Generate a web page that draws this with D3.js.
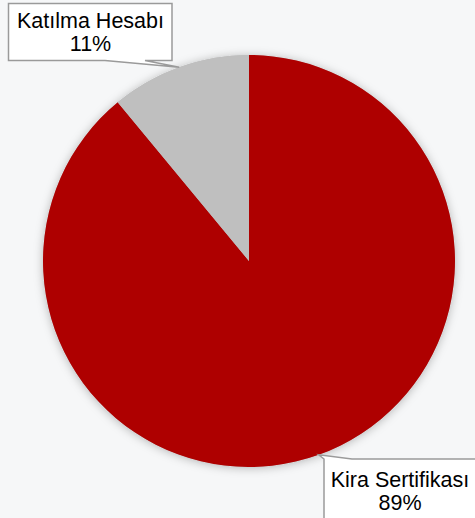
<!DOCTYPE html>
<html><head><meta charset="utf-8">
<script src="https://cdn.jsdelivr.net/npm/d3@7"></script>
<style>html,body{margin:0;padding:0;background:#f6f7f8;overflow:hidden}</style>
</head><body>
<svg id="c" width="475" height="518"></svg>
<script>
const categories = ["Kira Sertifikası", "Katılma Hesabı"];
const values = [89, 11];
const percentLabels = ["89%", "11%"];
const colors = ["#AE0000", "#BFBFBF"];

const svg = d3.select("#c");
const W = 475, H = 518;
const cx = 249, cy = 261, R = 206;

const defs = svg.append("defs");
const f = defs.append("filter").attr("id","sh").attr("x","-20%").attr("y","-20%").attr("width","140%").attr("height","140%");
f.append("feDropShadow").attr("dx",0).attr("dy",1).attr("stdDeviation",5).attr("flood-color","#000").attr("flood-opacity",0.28);

const data = categories.map((c,i)=>({cat:c, value:values[i], label:percentLabels[i], color:colors[i]}));
const pie = d3.pie().value(d=>d.value).sort(null);
const arcs = pie(data);
const arc = d3.arc().innerRadius(0).outerRadius(R);

const g = svg.append("g").attr("transform",`translate(${cx},${cy})`);
g.append("circle").attr("r",R).attr("fill","#bbb").attr("filter","url(#sh)");
g.selectAll("path.slice").data(arcs).join("path").attr("class","slice")
  .attr("d",arc).attr("fill",d=>d.data.color);

// callouts
const boxes = [
  {x:324, y:459, w:160, h:70, base:[324,352], side:"top", tx:400, ty1:487, ty2:510},
  {x:8.5, y:3.5, w:163.5, h:57, base:[105,145], side:"bottom", tx:90.5, ty1:28, ty2:51}
];
arcs.forEach((a,i)=>{
  const b = boxes[i];
  const mid = (a.startAngle+a.endAngle)/2;
  const tip = [cx + R*Math.sin(mid), cy - R*Math.cos(mid)];
  let p;
  if (b.side==="bottom") {
    const yb = b.y+b.h;
    p = `M${b.x},${b.y}H${b.x+b.w}V${yb}H${b.base[1]}L${tip[0]},${tip[1]}L${b.base[0]},${yb}H${b.x}Z`;
  } else {
    p = `M${b.x},${b.y}L${tip[0]},${tip[1]}L${b.base[1]},${b.y}H${b.x+b.w}V${b.y+b.h}H${b.x}Z`;
  }
  svg.append("path").attr("d",p).attr("fill","#fff").attr("stroke","#9a9a9a").attr("stroke-width",1.5).attr("stroke-linejoin","miter");
  const t = svg.append("text").attr("text-anchor","middle").attr("font-family","Liberation Sans, Arial, sans-serif")
    .attr("font-size","21.5px").attr("fill","#000");
  t.append("tspan").attr("x",b.tx).attr("y",b.ty1).text(a.data.cat);
  t.append("tspan").attr("x",b.tx).attr("y",b.ty2).text(a.data.label);
});
</script>
</body></html>
